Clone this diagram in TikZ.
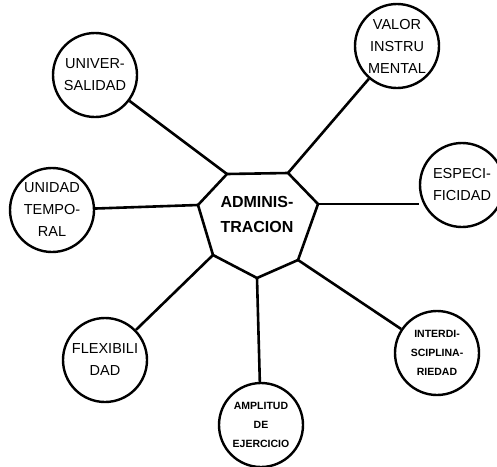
\documentclass[tikz,border=0pt]{standalone}
\usepackage{fontspec}
\setmainfont{Liberation Sans}
\begin{document}
\begin{tikzpicture}[x=1pt,y=-1pt,
  ln/.style={line width=2.6pt, line join=round},
  circ/.style={circle, draw, line width=2.4pt, minimum size=84pt, inner sep=0pt, align=center, font=\fontsize{14.5}{22}\selectfont},
  small/.style={font=\bfseries\fontsize{10.5}{19}\selectfont},
  centre/.style={align=center, font=\bfseries\fontsize{16}{25}\selectfont}]
\useasboundingbox (0,0) rectangle (497,466);
% heptagon vertices
\coordinate (tl) at (227,174);
\coordinate (tr) at (288,173);
\coordinate (r)  at (318,204);
\coordinate (br) at (298,260);
\coordinate (b)  at (257,278);
\coordinate (bl) at (213,255);
\coordinate (l)  at (198,205);
\draw[ln] (tl) -- (tr) -- (r) -- (br) -- (b) -- (bl) -- (l) -- cycle;
\node[centre] (adm) at (257,214) {ADMINIS-\\TRACION};
% circles
\node[circ] (univ) at (95,75) {UNIVER-\\SALIDAD};
\node[circ] (temp) at (52,210) {UNIDAD\\TEMPO-\\RAL};
\node[circ] (valor) at (397,46) {VALOR\\INSTRU\\MENTAL};
\node[circ] (espec) at (462,185) {ESPECI-\\FICIDAD};
\node[circ] (flex) at (105,360) {FLEXIBILI\\DAD};
\node[circ, small] (ampl) at (261,425) {AMPLITUD\\DE\\EJERCICIO};
\node[circ, small] (inter) at (437,353) {INTERDI-\\SCIPLINA-\\RIEDAD};
% connectors
\draw[ln] (tl) -- (univ);
\draw[ln] (l) -- (temp);
\draw[ln] (tr) -- (valor);
\draw[ln] (r) -- (espec.west |- r);
\draw[ln] (bl) -- (flex);
\draw[ln] (b) -- (ampl);
\draw[ln] (br) -- (inter);
\end{tikzpicture}
\end{document}
